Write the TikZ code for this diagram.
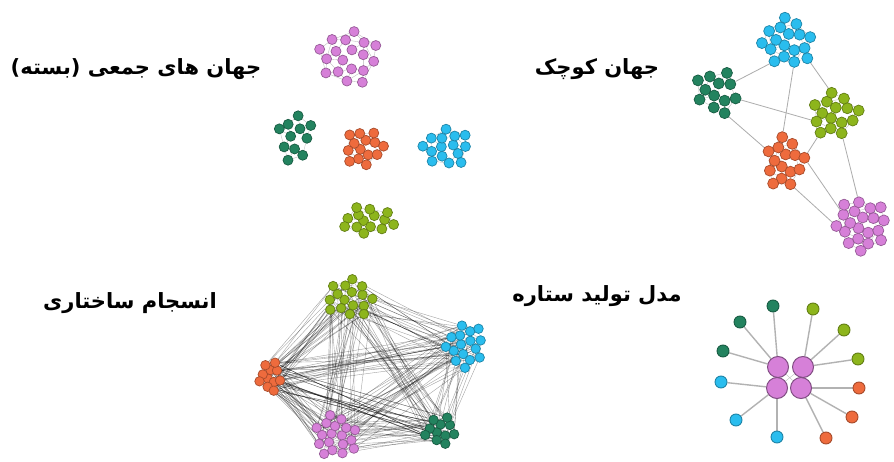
\documentclass[tikz,border=0pt]{standalone}
\usepackage{fontspec}
\newfontfamily\arabicfont[Script=Arabic]{DejaVu Sans}
\TeXXeTstate=1
\usetikzlibrary{calc}
\pgfdeclarelayer{bg}
\pgfsetlayers{bg,main}
\definecolor{cpu}{HTML}{D680D8}
\definecolor{ccy}{HTML}{2ABDEE}
\definecolor{cdg}{HTML}{23835F}
\definecolor{clg}{HTML}{8DB51C}
\definecolor{cor}{HTML}{EE6B3D}
\tikzset{
 dot/.style={circle, inner sep=0pt, line width=0.7pt},
 inedge/.style={draw=gray!55, line width=0.35pt},
 xedge/.style={draw=black, draw opacity=0.36, line width=0.4pt},
 bridge/.style={draw=gray!65, line width=0.8pt},
 spoke/.style={draw=gray!60, line width=1.4pt},
 hub/.style={dot, minimum size=21pt, fill=cpu, draw=cpu!60!black, line width=1pt},
 leaf/.style={dot, minimum size=12pt, fill=#1, draw=#1!70!black, line width=0.9pt},
 lbl/.style={font=\arabicfont\bfseries\fontsize{21}{25}\selectfont, inner sep=0pt},
}
% name, center, N, spacing, rotation, xscale, yscale, colour, node size
\newcommand\mkcluster[9]{%
  \foreach \i in {1,...,#3}{%
    \pgfmathsetmacro\rr{#4*sqrt(\i-0.4)}%
    \pgfmathsetmacro\aa{\i*137.508+#5}%
    \node[dot, minimum size=#9, fill=#8, draw=#8!70!black] (#1-\i)
      at ($(#2)+({#6*\rr*cos(\aa)},{#7*\rr*sin(\aa)})$) {};
  }%
  \begin{pgfonlayer}{bg}
  \foreach \i in {1,...,#3}{%
    \foreach \d in {3,5,8}{%
      \pgfmathtruncatemacro\j{\i+\d}%
      \ifnum\j>#3\relax\else\draw[inedge] (#1-\i) -- (#1-\j);\fi
    }}%
  \end{pgfonlayer}%
}
\begin{document}
\begin{tikzpicture}[x=1pt,y=-1pt]
\useasboundingbox (0,0) rectangle (894,462);
\begin{pgfonlayer}{bg}
\fill[white] (0,0) rectangle (894,462);
\end{pgfonlayer}

% ---------- labels
\node[lbl] (t1) at (136,69) {\beginR جهان های جمعی (بسته)\endR};
\node[lbl] (t2) at (597,69) {\beginR جهان کوچک\endR};
\node[lbl] (t3) at (130,303) {\beginR انسجام ساختاری\endR};
\node[lbl] (t4) at (597,296) {\beginR مدل تولید ستاره\endR};

% ---------- panel 1: closed worlds
\mkcluster{A-pu}{348,58}{18}{7.3}{20}{1}{0.97}{cpu}{10pt}
\mkcluster{A-dg}{295,136}{11}{7}{40}{0.8}{1.15}{cdg}{10pt}
\mkcluster{A-or}{364,147}{14}{5.5}{10}{1}{1}{cor}{10pt}
\mkcluster{A-cy}{446,148}{15}{6}{60}{1.05}{0.92}{ccy}{10pt}
\mkcluster{A-lg}{369,220}{14}{5.6}{30}{1.3}{0.75}{clg}{10pt}

% ---------- panel 2: small world
\mkcluster{B-cy}{788,42}{17}{6.4}{0}{1}{1}{ccy}{11pt}
\mkcluster{B-dg}{718,92}{12}{6.8}{0}{1}{1}{cdg}{11pt}
\mkcluster{B-lg}{835,115}{15}{6.5}{0}{1.05}{0.9}{clg}{11pt}
\mkcluster{B-or}{785,163}{15}{6.2}{0}{0.9}{1.1}{cor}{11pt}
\mkcluster{B-pu}{862,225}{20}{6.3}{0}{1}{0.95}{cpu}{11pt}
\begin{pgfonlayer}{bg}
\draw[bridge] (B-cy-14) -- (B-dg-5);
\draw[bridge] (B-cy-16) -- (B-lg-15);
\draw[bridge] (B-cy-11) -- (B-or-15);
\draw[bridge] (B-dg-8) -- (B-lg-9);
\draw[bridge] (B-dg-11) -- (B-or-12);
\draw[bridge] (B-lg-14) -- (B-or-13);
\draw[bridge] (B-lg-11) -- (B-pu-15);
\draw[bridge] (B-or-11) -- (B-pu-17);
\draw[bridge] (B-or-13) -- (B-pu-12);
\end{pgfonlayer}

% ---------- panel 3: structural cohesion
\mkcluster{C-lg}{349,298}{16}{5.5}{15}{1.2}{0.9}{clg}{9.5pt}
\mkcluster{C-cy}{465,345}{16}{5.5}{50}{0.95}{1.05}{ccy}{9.5pt}
\mkcluster{C-or}{270,376}{11}{4.3}{0}{0.9}{1.1}{cor}{9.5pt}
\mkcluster{C-pu}{335,436}{18}{5.5}{80}{1}{0.95}{cpu}{9.5pt}
\mkcluster{C-dg}{440,430}{11}{5.2}{0}{1.05}{0.85}{cdg}{9.5pt}
\begin{pgfonlayer}{bg}
\foreach \a/\na/\b/\nb/\cnt in {C-lg/16/C-cy/16/20, C-lg/16/C-or/11/24, C-lg/16/C-pu/18/22,
  C-lg/16/C-dg/11/18, C-cy/16/C-or/11/22, C-cy/16/C-pu/18/22, C-cy/16/C-dg/11/14,
  C-or/11/C-pu/18/26, C-or/11/C-dg/11/24, C-pu/18/C-dg/11/22}{%
  \foreach \k in {1,...,\cnt}{%
    \pgfmathtruncatemacro\ii{mod(\k*7+\cnt,\na)+1}%
    \pgfmathtruncatemacro\jj{mod(\k*5+3,\nb)+1}%
    \draw[xedge] (\a-\ii) -- (\b-\jj);
  }}
\end{pgfonlayer}

% ---------- panel 4: star model
\node[hub] (h1) at (778,367) {};
\node[hub] (h2) at (803,367) {};
\node[hub] (h3) at (777,388) {};
\node[hub] (h4) at (801,388) {};
\node[leaf=cdg] (d1) at (773,306) {};
\node[leaf=cdg] (d2) at (740,322) {};
\node[leaf=cdg] (d3) at (723,351) {};
\node[leaf=clg] (g1) at (813,309) {};
\node[leaf=clg] (g2) at (844,330) {};
\node[leaf=clg] (g3) at (858,359) {};
\node[leaf=cor] (o1) at (859,388) {};
\node[leaf=cor] (o2) at (852,417) {};
\node[leaf=cor] (o3) at (826,438) {};
\node[leaf=ccy] (c1) at (721,382) {};
\node[leaf=ccy] (c2) at (736,420) {};
\node[leaf=ccy] (c3) at (777,437) {};
\begin{pgfonlayer}{bg}
\foreach \l in {d1,d2,d3} \draw[spoke] (\l) -- (h1);
\foreach \l in {g1,g2,g3} \draw[spoke] (\l) -- (h2);
\foreach \l in {o1,o2,o3} \draw[spoke] (\l) -- (h4);
\foreach \l in {c1,c2,c3} \draw[spoke] (\l) -- (h3);
\draw[inedge] (h1) -- (h4);
\draw[inedge] (h2) -- (h3);
\end{pgfonlayer}
\end{tikzpicture}
\end{document}
